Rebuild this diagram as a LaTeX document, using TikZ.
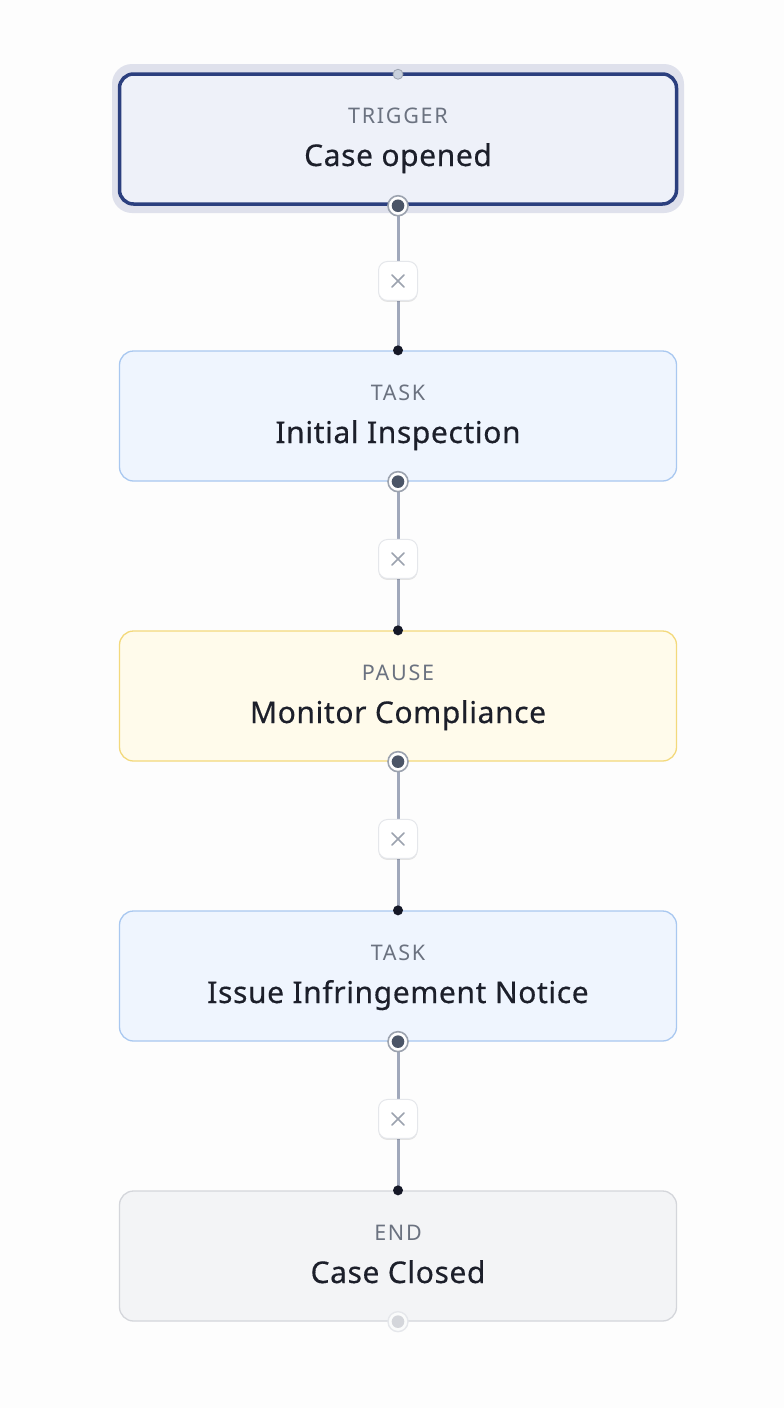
\documentclass[tikz,border=0pt]{standalone}
\usepackage{fontspec}
\setmainfont{Noto Sans}
\usetikzlibrary{calc,shadows}
\definecolor{bgc}{HTML}{FDFDFD}
\definecolor{halo}{HTML}{DFE1EC}
\definecolor{navy}{HTML}{2B3F7E}
\definecolor{trigfill}{HTML}{EEF1F9}
\definecolor{taskfill}{HTML}{EFF5FE}
\definecolor{taskline}{HTML}{A9C8F0}
\definecolor{pausefill}{HTML}{FFFBEB}
\definecolor{pauseline}{HTML}{F3D97C}
\definecolor{endfill}{HTML}{F3F4F6}
\definecolor{endline}{HTML}{D4D6DB}
\definecolor{kindc}{HTML}{6B7280}
\definecolor{titlec}{HTML}{1C1F2A}
\definecolor{edgec}{HTML}{A0A8BB}
\definecolor{handlec}{HTML}{4B5567}
\definecolor{ringc}{HTML}{9CA3AF}
\definecolor{btnline}{HTML}{E5E7EB}
\definecolor{xc}{HTML}{9CA3AF}
\definecolor{dotc}{HTML}{151827}
\definecolor{topc}{HTML}{C8D0DC}
\tikzset{
  card/.style={rectangle, rounded corners=14pt, minimum width=557pt, minimum height=130pt, line width=1.3pt, inner sep=0pt},
  trigcard/.style={card, fill=trigfill, draw=navy, line width=3.5pt},
  taskcard/.style={card, fill=taskfill, draw=taskline},
  pausecard/.style={card, fill=pausefill, draw=pauseline},
  endcard/.style={card, fill=endfill, draw=endline},
  kind/.style={anchor=base, text=kindc, font=\fontsize{21.5}{24}\selectfont\addfontfeatures{LetterSpace=8}},
  title/.style={anchor=base, text=titlec, font=\fontsize{30}{34}\selectfont\addfontfeatures{LetterSpace=2,FakeBold=0.4}},
  srchandle/.style={circle, minimum size=20pt, inner sep=0pt, fill=white, draw=ringc, line width=1.6pt, path picture={\fill[handlec] (path picture bounding box.center) circle (6.3pt);}},
  endhandle/.style={circle, minimum size=20pt, inner sep=0pt, fill=white!60!endfill, draw=btnline, line width=1.4pt, path picture={\fill[endline] (path picture bounding box.center) circle (6.3pt);}},
  tgtdot/.style={circle, minimum size=10pt, inner sep=0pt, fill=dotc},
  trigtop/.style={circle, minimum size=10pt, inner sep=0pt, fill=topc, draw=ringc, line width=0.8pt},
  edge/.style={draw=edgec, line width=3pt},
  xbtn/.style={rectangle, rounded corners=9pt, minimum width=39pt, minimum height=39pt, fill=white, draw=btnline, line width=1pt, drop shadow={shadow xshift=0pt, shadow yshift=-1.5pt, opacity=0.10, fill=black}, path picture={\draw[xc, line width=1.6pt, line cap=round] ($(path picture bounding box.center)+(-6pt,-6pt)$) -- ($(path picture bounding box.center)+(6pt,6pt)$) ($(path picture bounding box.center)+(-6pt,6pt)$) -- ($(path picture bounding box.center)+(6pt,-6pt)$);}},
}
\begin{document}
\begin{tikzpicture}[x=1pt,y=-1pt]
\fill[bgc] (0,0) rectangle (784,1408);
\useasboundingbox (0,0) rectangle (784,1408);
% trigger halo
\fill[halo, rounded corners=20pt] (112,64) rectangle (684,213);
\node[trigcard] (n1) at (398,139) {};
\node[taskcard] (n2) at (398,416) {};
\node[pausecard] (n3) at (398,696) {};
\node[taskcard] (n4) at (398,976) {};
\node[endcard] (n5) at (398,1256) {};
% texts
\node[kind] (k1) at (398,123) {TRIGGER};
\node[title] (t1) at (398,166) {Case opened};
\node[kind] (k2) at (398,400) {TASK};
\node[title] (t2) at (398,443) {Initial Inspection};
\node[kind] (k3) at (398,680) {PAUSE};
\node[title] (t3) at (398,723) {Monitor Compliance};
\node[kind] (k4) at (398,960) {TASK};
\node[title] (t4) at (398,1003) {Issue Infringement Notice};
\node[kind] (k5) at (398,1240) {END};
\node[title] (t5) at (398,1283) {Case Closed};
% edges
\foreach \s/\t in {1/2,2/3,3/4,4/5}{
  \draw[edge] (n\s.south) -- (n\t.north);
  \node[xbtn] (x\s) at ($(n\s.south)!0.52!(n\t.north)$) {};
}
% handles
\node[trigtop] (a1) at ([yshift=-2pt]n1.north) {};
\node[tgtdot] (a2) at (n2.north) {};
\node[tgtdot] (a3) at (n3.north) {};
\node[tgtdot] (a4) at (n4.north) {};
\node[tgtdot] (a5) at (n5.north) {};
\node[srchandle] (b1) at (n1.south) {};
\node[srchandle] (b2) at (n2.south) {};
\node[srchandle] (b3) at (n3.south) {};
\node[srchandle] (b4) at (n4.south) {};
\node[endhandle] (b5) at (n5.south) {};
\end{tikzpicture}
\end{document}
